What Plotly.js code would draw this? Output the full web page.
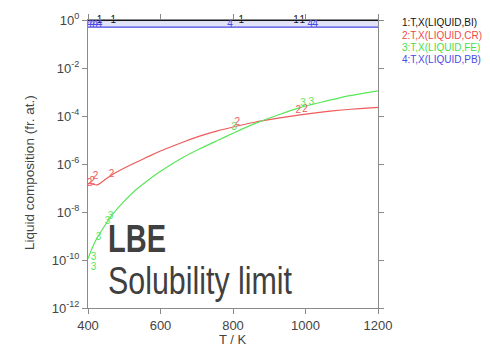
<!DOCTYPE html>
<html>
<head>
<meta charset="utf-8">
<script src="https://cdn.plot.ly/plotly-3.0.1.min.js"></script>
<style>html,body{margin:0;padding:0;background:#fff;}#chart{width:490px;height:353px;}</style>
</head>
<body>
<div id="chart"></div>
<script>
// ---- data ----
const tempCr = [400, 426, 450, 470, 503, 544, 572, 600, 663, 710, 757, 800, 860, 920, 985, 1050, 1100, 1150, 1200];
const xCr = [1.58e-7, 1.35e-7, 2.4e-7, 3.8e-7, 7.1e-7, 1.41e-6, 2.24e-6, 3.47e-6, 8.3e-6, 1.48e-5, 2.4e-5, 3.47e-5, 5.5e-5, 7.9e-5, 1.12e-4, 1.48e-4, 1.78e-4, 2.04e-4, 2.29e-4];

const tempFe = [400, 410, 426, 445, 460, 500, 530, 572, 600, 663, 710, 757, 800, 860, 920, 985, 1050, 1100, 1150, 1200];
const xFe = [1.12e-10, 2.82e-10, 8.9e-10, 2.51e-9, 5.6e-9, 2.82e-8, 7.9e-8, 2.51e-7, 5.0e-7, 1.91e-6, 4.4e-6, 9.5e-6, 1.91e-5, 4.8e-5, 1.05e-4, 2.24e-4, 3.98e-4, 6.0e-4, 8.3e-4, 1.12e-3];

const tempBi = [400, 1200];
const xBi = [0.95, 0.95];
const tempPb = [400, 1200];
const xPb = [0.5, 0.5];

// curve labels (positions of the number tags)
const lblBiT = [432, 470, 823, 974, 991];
const lblBiX = [0.99, 0.99, 0.99, 0.99, 0.99];
const lblCrT = [404, 412, 421, 465, 812, 980, 999, 1208];
const lblCrX = [1.48e-7, 1.95e-7, 2.88e-7, 3.8e-7, 5.6e-5, 1.62e-4, 1.78e-4, 3.47e-4];
const lblFeT = [415, 415, 429, 454, 462, 803, 993, 1016, 1208];
const lblFeX = [1.32e-10, 4.7e-11, 8.3e-10, 4.17e-9, 6.2e-9, 3.47e-5, 3.47e-4, 3.8e-4, 1.62e-3];
const lblPbT = [404, 412, 421, 432, 792, 1013, 1027, 1205];
const lblPbX = [0.68, 0.68, 0.68, 0.68, 0.68, 0.68, 0.68, 0.7];

const legendLabels = ['1:T,X(LIQUID,BI)', '2:T,X(LIQUID,CR)', '3:T,X(LIQUID,FE)', '4:T,X(LIQUID,PB)'];
const xTicks = [400, 600, 800, 1000, 1200];
const yTickVals = [1, 1e-2, 1e-4, 1e-6, 1e-8, 1e-10, 1e-12];
const yTickText = ['10<sup>0</sup>', '10<sup>-2</sup>', '10<sup>-4</sup>', '10<sup>-6</sup>', '10<sup>-8</sup>', '10<sup>-10</sup>', '10<sup>-12</sup>'];

// ---- style ----
const cBi = '#111111', cCr = '#f05a5a', cFe = '#5ae65a', cPb = '#4a4ae6';
const lblFont = {family: 'Liberation Sans, Arial, sans-serif', size: 10};

const traces = [
  {x: tempBi, y: xBi, mode: 'lines', line: {color: cBi, width: 1}, hoverinfo: 'skip'},
  {x: tempPb, y: xPb, mode: 'lines', line: {color: cPb, width: 1.2}, fill: 'tonexty', fillcolor: 'rgba(150,150,235,0.28)', hoverinfo: 'skip'},
  {x: tempCr, y: xCr, mode: 'lines', line: {color: cCr, width: 1.2, shape: 'spline', smoothing: 0.6}},
  {x: tempFe, y: xFe, mode: 'lines', line: {color: cFe, width: 1.2, shape: 'spline', smoothing: 0.6}},
  {x: lblBiT, y: lblBiX, mode: 'text', text: lblBiT.map(() => '1'), textfont: Object.assign({color: cBi}, lblFont), cliponaxis: false},
  {x: lblCrT, y: lblCrX, mode: 'text', text: lblCrT.map(() => '2'), textfont: Object.assign({color: cCr}, lblFont), cliponaxis: false},
  {x: lblFeT, y: lblFeX, mode: 'text', text: lblFeT.map(() => '3'), textfont: Object.assign({color: cFe}, lblFont), cliponaxis: false},
  {x: lblPbT, y: lblPbX, mode: 'text', text: lblPbT.map(() => '4'), textfont: Object.assign({color: cPb}, lblFont), cliponaxis: false}
];

const legendColors = [cBi, '#f04848', '#48e048', '#4a4ae6'];
const annotations = legendLabels.map((t, i) => ({
  xref: 'paper', yref: 'paper', x: 1.076, y: (308 - (23 + i * 12.3)) / 288,
  xanchor: 'left', yanchor: 'middle', showarrow: false, text: t,
  font: {family: 'Liberation Sans, Arial, sans-serif', size: 10, color: legendColors[i]}
}));
annotations.push(
  {xref: 'paper', yref: 'paper', x: -0.2, y: 0.469, textangle: -90, showarrow: false, xanchor: 'center', yanchor: 'middle',
   text: 'Liquid composition (fr. at.)', font: {family: 'Liberation Sans, Arial, sans-serif', size: 13.5, color: '#444'}},
  {xref: 'paper', yref: 'paper', x: 0.5, y: -0.111, showarrow: false, xanchor: 'center', yanchor: 'middle',
   text: 'T / K', font: {family: 'Liberation Sans, Arial, sans-serif', size: 13, color: '#444'}},
  {xref: 'paper', yref: 'paper', x: 0.5, y: 1.056, showarrow: false, xanchor: 'center', yanchor: 'bottom',
   text: 'T / K', font: {family: 'Liberation Sans, Arial, sans-serif', size: 13, color: '#444'}},
  {xref: 'paper', yref: 'paper', x: 0.062, y: 0.24, showarrow: false, xanchor: 'left', yanchor: 'middle',
   text: '<b>LBE</b>', font: {family: 'Liberation Sans, Arial, sans-serif', size: 38, color: '#404040'}},
  {xref: 'paper', yref: 'paper', x: 0.062, y: 0.094, showarrow: false, xanchor: 'left', yanchor: 'middle',
   text: 'Solubility limit', font: {family: 'Liberation Sans, Arial, sans-serif', size: 38, color: '#404040'}}
);

const axisCommon = {
  showline: true, linecolor: '#8a8a8a', linewidth: 1, mirror: 'ticks',
  ticks: 'outside', ticklen: 5, tickcolor: '#8a8a8a', showgrid: false, zeroline: false,
  tickfont: {family: 'Liberation Sans, Arial, sans-serif', size: 13, color: '#444'}
};

const layout = {
  width: 490, height: 353,
  margin: {l: 88, r: 112, t: 20, b: 45, pad: 0},
  paper_bgcolor: '#fff', plot_bgcolor: '#fff',
  showlegend: false,
  xaxis: Object.assign({}, axisCommon, {range: [400, 1200], tickvals: xTicks}),
  yaxis: Object.assign({}, axisCommon, {type: 'log', range: [-12, 0], tickvals: yTickVals, ticktext: yTickText}),
  annotations: annotations
};

// condensed look of the overlay captions (narrow typeface in the original)
const condensed = {'LBE': 58, 'Solubility limit': 184};

Plotly.newPlot('chart', traces, layout, {displayModeBar: false, staticPlot: true}).then(gd => {
  const root = gd.getBoundingClientRect();
  gd.querySelectorAll('text.annotation-text').forEach(el => {
    const w = condensed[el.textContent];
    if (!w) return;
    el.setAttribute('textLength', w);
    el.setAttribute('lengthAdjust', 'spacingAndGlyphs');
    const r = el.getBoundingClientRect();
    const dx = 108 - (r.left - root.left);
    const x0 = parseFloat(el.getAttribute('x') || '0');
    el.setAttribute('x', x0 + dx);
  });
});
</script>
</body>
</html>
